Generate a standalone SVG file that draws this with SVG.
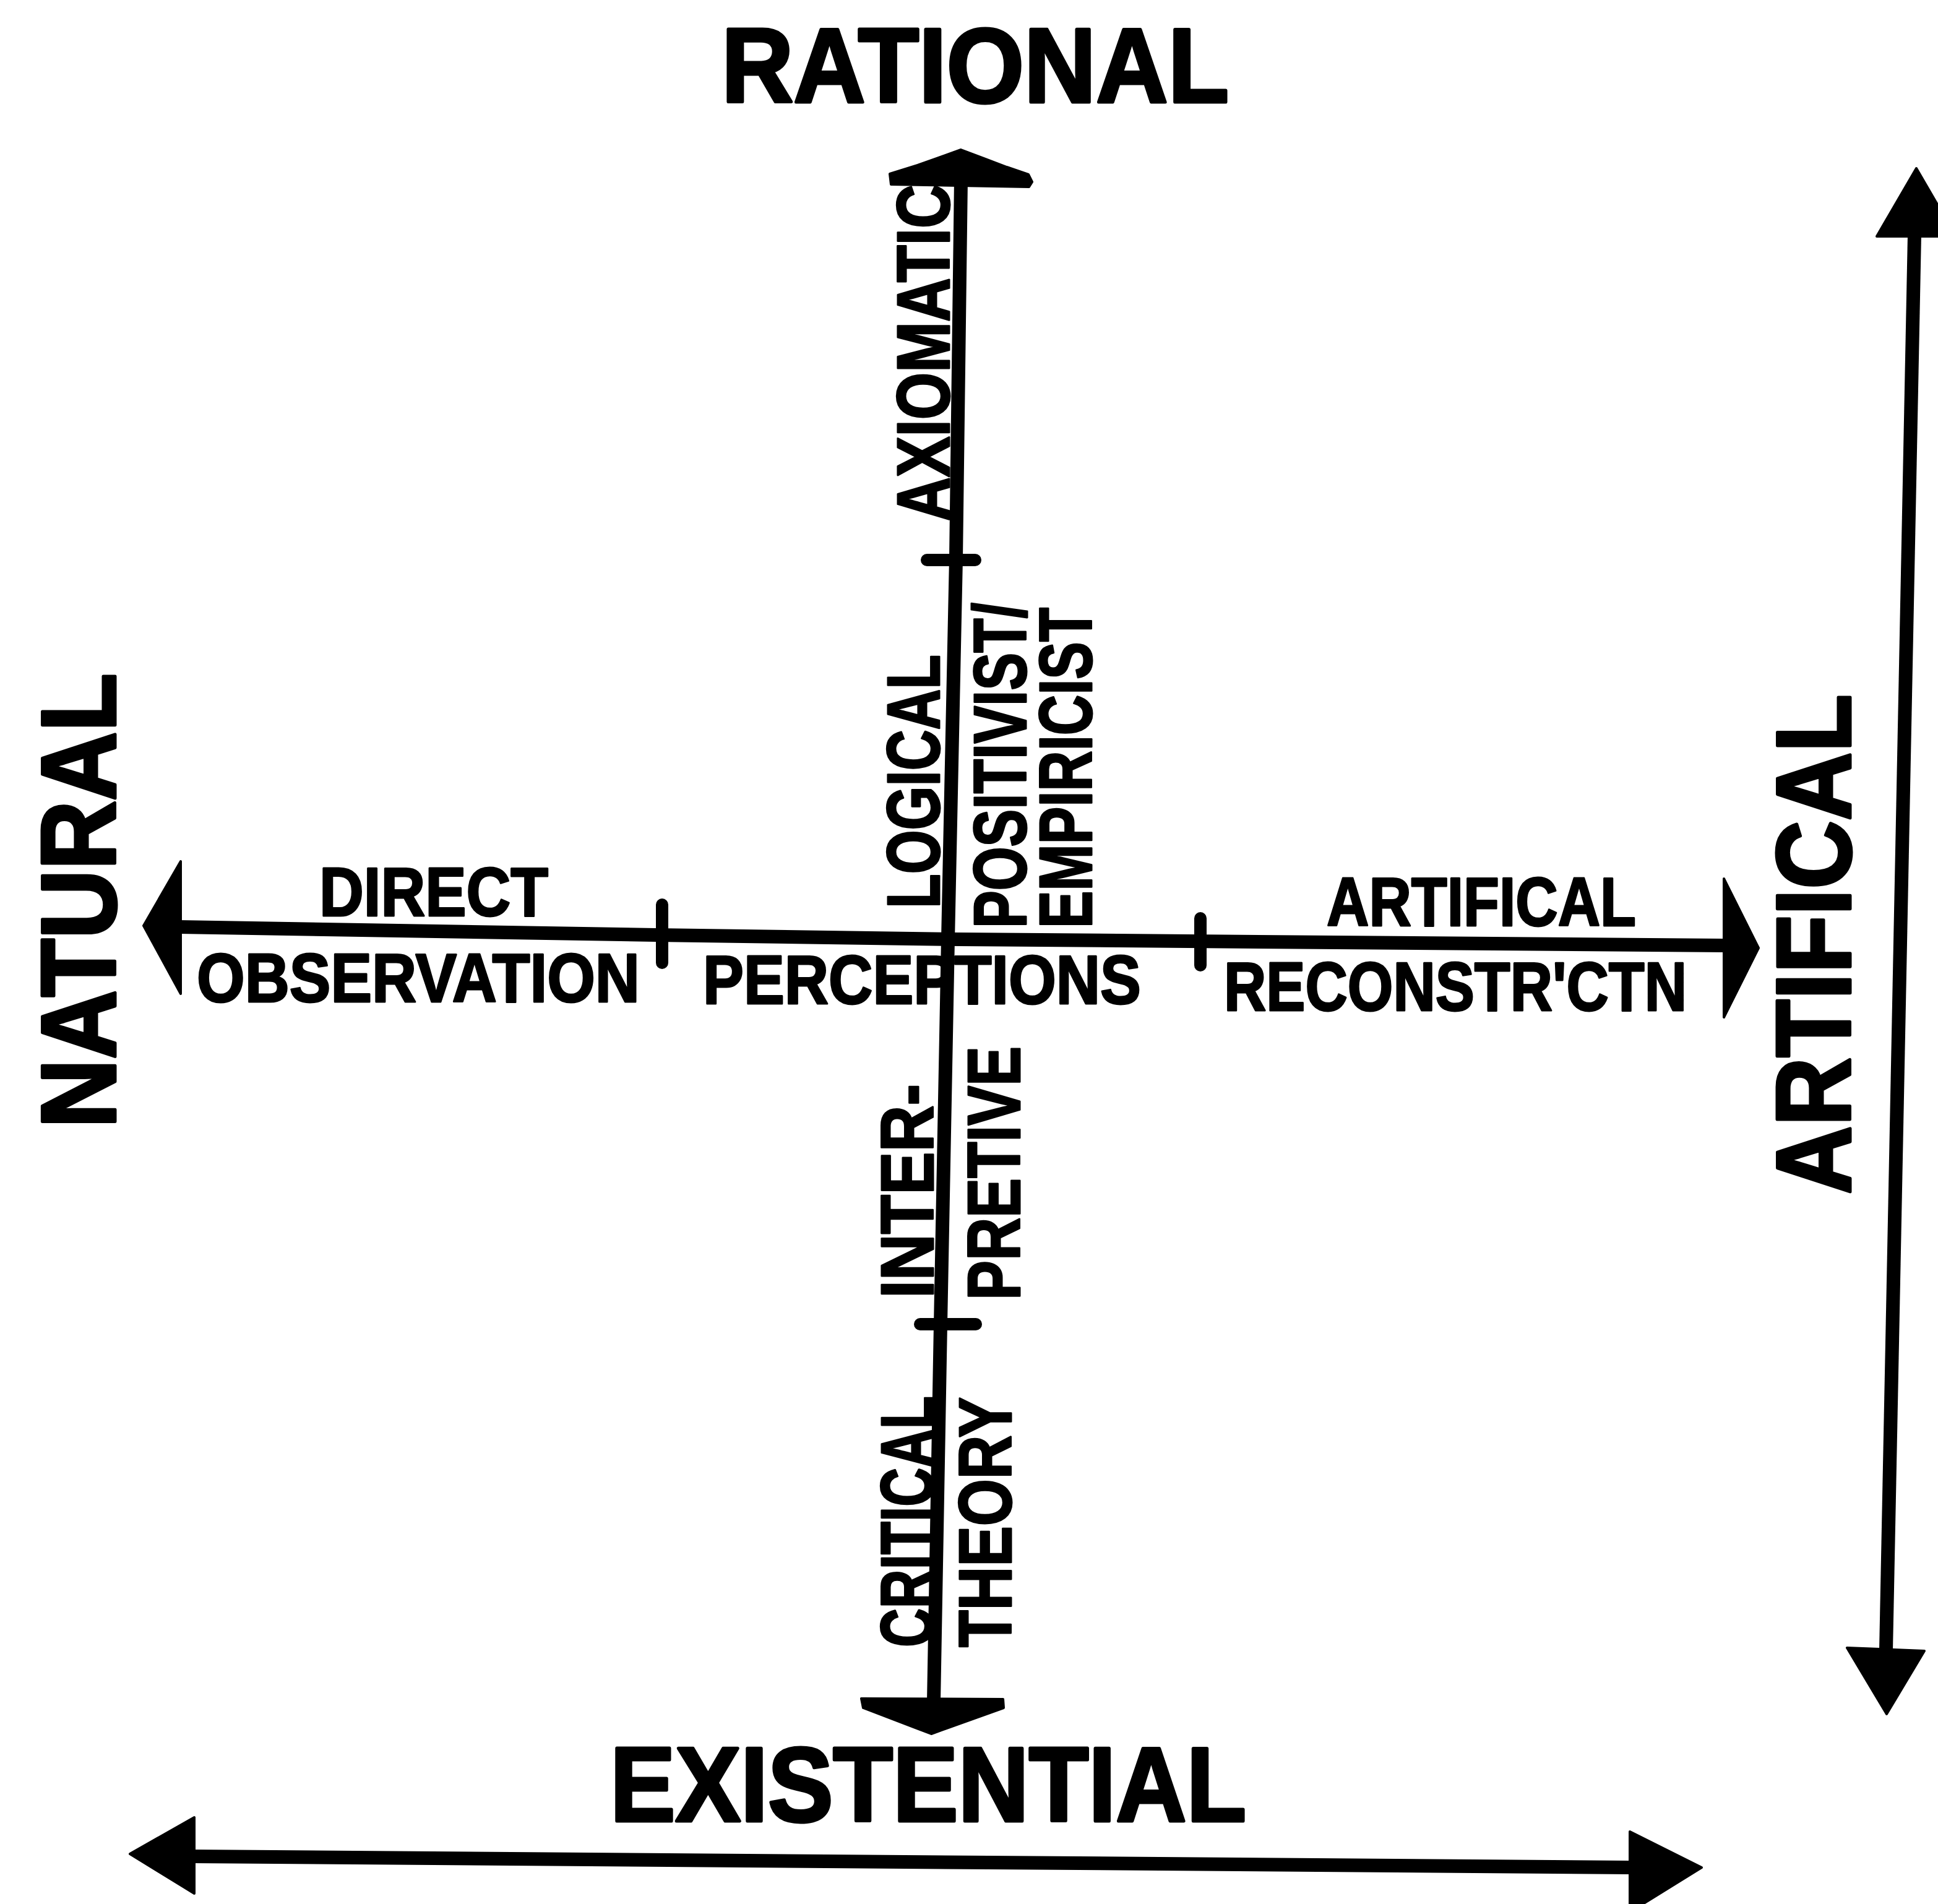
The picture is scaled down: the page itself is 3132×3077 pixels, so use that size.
<svg xmlns="http://www.w3.org/2000/svg" width="3132" height="3077" viewBox="0 0 3132 3077">
<style>
text{font-family:"Liberation Sans",Arial,Helvetica,sans-serif;font-weight:bold;fill:#000;stroke:#000;stroke-linejoin:round}
.big{font-size:170px;stroke-width:5}
.vlab{font-size:120px;stroke-width:3}
.hlab{font-size:112px;stroke-width:3}
.ax{fill:none;stroke:#000;stroke-width:22;stroke-linejoin:round}
.tick{fill:none;stroke:#000;stroke-width:20;stroke-linecap:round}
.head{fill:#000;stroke:#000;stroke-width:4;stroke-linejoin:round}
</style>
<rect width="3132" height="3077" fill="#fff"/>
<g id="connectors">
  <!-- main vertical axis -->
  <polyline class="ax" points="1553,290 1545,903 1532,1518 1520,2140 1509,2750"/>
  <polygon class="head" points="1553,242 1627,270 1662,282 1668,294 1663,302 1440,298 1438,281 1483,267"/>
  <polygon class="head" points="1392,2745 1621,2746 1622,2760 1505,2802 1395,2760"/>
  <line class="tick" x1="1498" y1="905" x2="1576" y2="905"/>
  <line class="tick" x1="1487" y1="2140" x2="1577" y2="2140"/>
  <!-- main horizontal axis -->
  <polyline class="ax" points="290,1498 1060,1511 1550,1518 2790,1528"/>
  <polygon class="head" points="232,1496 292,1392 292,1606"/>
  <polygon class="head" points="2786,1420 2842,1532 2786,1644"/>
  <line class="tick" x1="1070" y1="1462" x2="1070" y2="1556"/>
  <line class="tick" x1="1940" y1="1484" x2="1940" y2="1560"/>
  <!-- right vertical arrow -->
  <line class="ax" x1="3094" y1="380" x2="3048" y2="2667"/>
  <polygon class="head" points="3097,272 3161,382 3033,382"/>
  <polygon class="head" points="2985,2663 3110,2668 3049,2770"/>
  <!-- bottom horizontal arrow -->
  <line class="ax" x1="311" y1="3000" x2="2636" y2="3018"/>
  <polygon class="head" points="210,2996 314,2937 314,3060"/>
  <polygon class="head" points="2634,2960 2750,3018 2634,3090"/>
</g>
<g id="rational"><text class="big" x="1166" y="165" font-size="168" textLength="820" lengthAdjust="spacingAndGlyphs">RATIONAL</text></g>
<g id="existential"><text class="big" x="986" y="2943" textLength="1028" lengthAdjust="spacingAndGlyphs">EXISTENTIAL</text></g>
<g id="natural"><text class="big" font-size="188" transform="translate(186,1823) rotate(-90)" textLength="735" lengthAdjust="spacingAndGlyphs">NATURAL</text></g>
<g id="artifical-big"><text class="big" font-size="196" transform="translate(2990,1930) rotate(-90)" textLength="808" lengthAdjust="spacingAndGlyphs">ARTIFICAL</text></g>
<g id="axiomatic"><text class="vlab" transform="translate(1534,842) rotate(-90)" textLength="544" lengthAdjust="spacingAndGlyphs">AXIOMATIC</text></g>
<g id="logical"><text class="vlab" transform="translate(1518,1468) rotate(-90)" textLength="410" lengthAdjust="spacingAndGlyphs">LOGICAL</text></g>
<g id="positivist"><text class="vlab" transform="translate(1658,1500) rotate(-90)" textLength="526" lengthAdjust="spacingAndGlyphs">POSITIVIST/</text></g>
<g id="empiricist"><text class="vlab" transform="translate(1764,1500) rotate(-90)" textLength="518" lengthAdjust="spacingAndGlyphs">EMPIRICIST</text></g>
<g id="interpretive">
  <text class="vlab" transform="translate(1508,2098) rotate(-90)" textLength="346" lengthAdjust="spacingAndGlyphs">INTER-</text>
  <text class="vlab" transform="translate(1648,2101) rotate(-90)" textLength="410" lengthAdjust="spacingAndGlyphs">PRETIVE</text>
</g>
<g id="critical-theory">
  <text class="vlab" transform="translate(1508,2662) rotate(-90)" textLength="406" lengthAdjust="spacingAndGlyphs">CRITICAL</text>
  <text class="vlab" transform="translate(1634,2662) rotate(-90)" textLength="404" lengthAdjust="spacingAndGlyphs">THEORY</text>
</g>
<g id="direct-observation">
  <text class="hlab" x="516" y="1480" textLength="370" lengthAdjust="spacingAndGlyphs">DIRECT</text>
  <text class="hlab" x="318" y="1619" textLength="716" lengthAdjust="spacingAndGlyphs">OBSERVATION</text>
</g>
<g id="perceptions"><text class="hlab" x="1136" y="1622" textLength="708" lengthAdjust="spacingAndGlyphs">PERCEPTIONS</text></g>
<g id="artifical-reconstruction">
  <text class="hlab" x="2144" y="1496" textLength="500" lengthAdjust="spacingAndGlyphs">ARTIFICAL</text>
  <text class="hlab" x="1978" y="1633" textLength="748" lengthAdjust="spacingAndGlyphs">RECONSTR'CTN</text>
</g>
</svg>
